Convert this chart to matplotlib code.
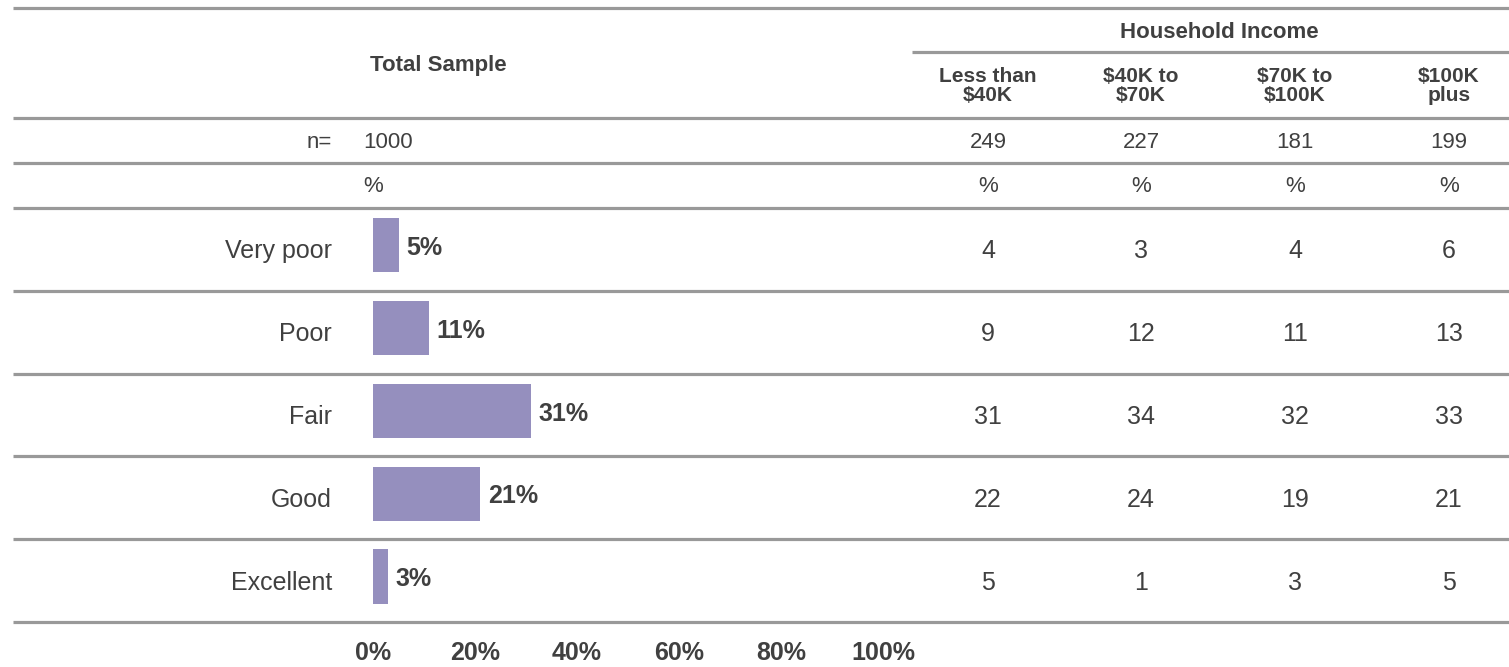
import matplotlib.pyplot as plt
import numpy as np

plt.rcParams["font.family"] = ["Liberation Sans", "DejaVu Sans"]

# ---------- data ----------
categories = ["Very poor", "Poor", "Fair", "Good", "Excellent"]
total_pct = [5, 11, 31, 21, 3]
total_n = 1000

income_groups = ["Less than\n$40K", "$40K to\n$70K", "$70K to\n$100K", "$100K\nplus"]
income_n = [249, 227, 181, 199]
income_pct = [
    [4, 3, 4, 6],      # Very poor
    [9, 12, 11, 13],   # Poor
    [31, 34, 32, 33],  # Fair
    [22, 24, 19, 21],  # Good
    [5, 1, 3, 5],      # Excellent
]
axis_ticks = [0, 20, 40, 60, 80, 100]

# ---------- style ----------
W, H = 1509, 667
BAR_COLOR = "#958fbe"
TEXT = "#404040"
RULE = "#999999"
COL_X = [988, 1141, 1295, 1449]
ROW_TOP, ROW_BOTTOM = 208, 622
NUDGE = 2  # px, matplotlib's va="center" sits a little high

fig = plt.figure(figsize=(W / 100, H / 100), dpi=100)

# overlay in pixel coordinates for the table text and rules
ov = fig.add_axes([0, 0, 1, 1])
ov.set_xlim(0, W)
ov.set_ylim(H, 0)
ov.axis("off")

# bar panel
bx = fig.add_axes([373 / W, 1 - ROW_BOTTOM / H, 510 / W, (ROW_BOTTOM - ROW_TOP) / H])
y = np.arange(len(categories)) + 0.45
bx.barh(y, total_pct, height=0.655, color=BAR_COLOR)
for yi, v in zip(y, total_pct):
    bx.annotate(f"{v}%", (v, yi), xytext=(5.5, -2), textcoords="offset points",
                ha="left", va="center", fontsize=18, fontweight="bold", color=TEXT)
bx.set_xlim(0, 100)
bx.set_ylim(len(categories), 0)
bx.set_xticks(axis_ticks)
bx.set_xticklabels([f"{t}%" for t in axis_ticks], fontsize=18,
                   fontweight="bold", color=TEXT)
bx.tick_params(axis="x", length=0, pad=14)
bx.set_yticks([])
for s in bx.spines.values():
    s.set_visible(False)
bx.patch.set_alpha(0)

# rules
row_h = (ROW_BOTTOM - ROW_TOP) / len(categories)
full_rules = [8, 118, 163] + [ROW_TOP + row_h * i for i in range(len(categories) + 1)]
for ry in full_rules:
    ov.plot([13, W], [ry, ry], color=RULE, lw=2.3, solid_capstyle="butt")
ov.plot([912, W], [52, 52], color=RULE, lw=2.3, solid_capstyle="butt")

# headers
ov.text(438, 64 + NUDGE, "Total Sample", ha="center", va="center", fontsize=16,
        fontweight="bold", color=TEXT)
ov.text(1219, 30 + NUDGE, "Household Income", ha="center", va="center", fontsize=16,
        fontweight="bold", color=TEXT)
for cx, lab in zip(COL_X, income_groups):
    ov.text(cx, 86, lab, ha="center", va="center", fontsize=15,
            fontweight="bold", color=TEXT, linespacing=0.95)

# base rows
ov.text(332, 140 + NUDGE, "n=", ha="right", va="center", fontsize=16, color=TEXT)
ov.text(363, 140 + NUDGE, f"{total_n}", ha="left", va="center", fontsize=16, color=TEXT)
ov.text(363, 185 + NUDGE, "%", ha="left", va="center", fontsize=16, color=TEXT)
for cx, n in zip(COL_X, income_n):
    ov.text(cx, 140 + NUDGE, f"{n}", ha="center", va="center", fontsize=16, color=TEXT)
    ov.text(cx, 185 + NUDGE, "%", ha="center", va="center", fontsize=16, color=TEXT)

# body rows
for i, cat in enumerate(categories):
    cy = ROW_TOP + row_h * (i + 0.5) + NUDGE
    ov.text(332, cy, cat, ha="right", va="center", fontsize=18, color=TEXT)
    for cx, v in zip(COL_X, income_pct[i]):
        ov.text(cx, cy, f"{v}", ha="center", va="center", fontsize=18, color=TEXT)

fig.savefig("out.png", dpi=100)
